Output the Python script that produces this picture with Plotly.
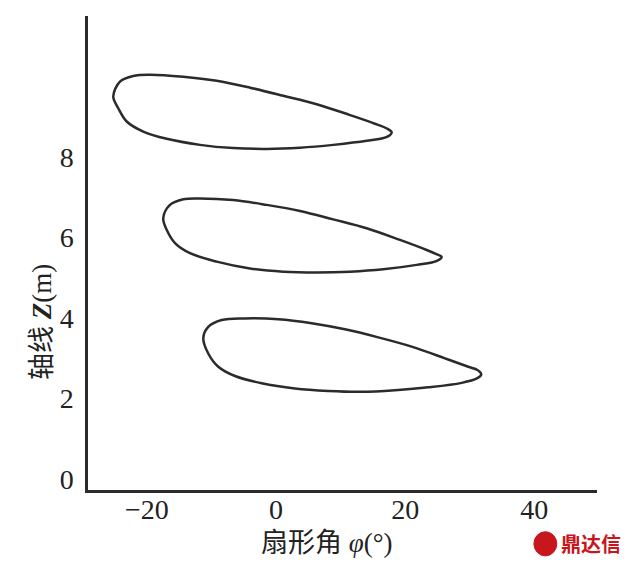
import plotly.graph_objects as go

# Loop contours (fan angle phi in degrees, axial position Z in m), traced starting at the lower middle
loop1_phi = [-1.44, -6.61, -11.76, -16.92, -20.54, -23.11, -24.41, -25.19, -24.15, -22.09, -19.50,
             -14.35, -9.18, -4.02, 1.13, 6.30, 11.46, 15.06, 17.26, 17.91, 17.18, 14.04, 8.87, 3.72, -1.44]
loop1_z = [8.20, 8.22, 8.30, 8.45, 8.63, 8.88, 9.21, 9.50, 9.87, 10.01, 10.04,
           9.99, 9.89, 9.72, 9.52, 9.31, 9.04, 8.84, 8.70, 8.61, 8.50, 8.40, 8.30, 8.23, 8.20]

loop2_phi = [6.30, 1.13, -4.02, -9.18, -13.31, -15.63, -16.92, -17.45, -16.41, -14.35, -11.76,
             -6.61, -1.44, 3.72, 8.87, 14.04, 19.20, 23.33, 24.92, 25.65, 24.92, 21.78, 16.61, 11.46, 6.30]
loop2_z = [5.13, 5.15, 5.23, 5.40, 5.61, 5.86, 6.19, 6.48, 6.81, 6.95, 6.97,
           6.93, 6.81, 6.66, 6.45, 6.23, 5.94, 5.69, 5.58, 5.52, 5.42, 5.32, 5.21, 5.15, 5.13]

loop3_phi = [13.27, 8.10, 2.94, -2.21, -6.35, -8.93, -10.48, -11.25, -10.48, -8.41, -4.80,
             0.36, 5.53, 10.68, 15.84, 21.01, 26.16, 29.77, 31.19, 31.78, 31.11, 28.75, 23.58, 18.42, 13.27]
loop3_z = [2.17, 2.19, 2.25, 2.38, 2.56, 2.79, 3.12, 3.50, 3.78, 3.95, 3.99,
           3.97, 3.87, 3.72, 3.52, 3.29, 3.00, 2.79, 2.71, 2.60, 2.50, 2.39, 2.28, 2.21, 2.17]

x_ticks = [-20, 0, 20, 40]
y_ticks = [0, 2, 4, 6, 8]
x_tick_text = ["\u221220", "0", "20", "40"]
y_tick_text = ["0", "2", "4", "6", "8"]

line_color = "#2b2b2b"

fig = go.Figure()
for xs, zs in [(loop1_phi, loop1_z), (loop2_phi, loop2_z), (loop3_phi, loop3_z)]:
    fig.add_trace(go.Scatter(
        x=xs, y=zs, mode="lines",
        line=dict(color=line_color, width=2.5, shape="spline", smoothing=1.0),
        showlegend=False, hoverinfo="skip"))

serif = "Liberation Serif, Times New Roman, serif"
mixed = "Liberation Serif, Noto Sans CJK SC, serif"

fig.update_layout(
    width=634, height=566,
    margin=dict(l=88, r=37, t=16, b=76),
    paper_bgcolor="white", plot_bgcolor="white",
    xaxis=dict(range=[-29.1, 49.7], tickvals=x_ticks, ticktext=x_tick_text,
               showgrid=False, zeroline=False, showline=True, linecolor=line_color,
               linewidth=2.5, ticks="", ticklabelstandoff=-7,
               tickfont=dict(family=serif, size=28, color="#222")),
    yaxis=dict(range=[-0.27, 11.5], tickvals=y_ticks, ticktext=y_tick_text,
               showgrid=False, zeroline=False, showline=True, linecolor=line_color,
               linewidth=2.5, ticks="", ticklabelstandoff=6,
               tickfont=dict(family=serif, size=28, color="#222")),
    annotations=[
        dict(text="扇形角 <i>\u03c6</i>(°)", xref="paper", yref="paper",
             x=0.4676, y=-0.1118, xanchor="center", yanchor="middle", showarrow=False,
             font=dict(family=mixed, size=27, color="#222")),
        dict(text="轴线 <b><i>Z</i></b>(m)", xref="paper", yref="paper",
             x=-0.0904, y=0.3544, xanchor="center", yanchor="middle", showarrow=False,
             textangle=-90,
             font=dict(family=mixed, size=27, color="#222")),
        dict(text="<b>鼎达信</b>", xref="paper", yref="paper",
             x=0.988, y=-0.112, xanchor="center", yanchor="middle", showarrow=False,
             font=dict(family="Noto Sans CJK SC", size=20, color="#c8161d")),
    ],
    shapes=[
        dict(type="circle", xref="paper", yref="paper",
             x0=0.876, x1=0.921, y0=-0.139, y1=-0.088,
             fillcolor="#c8161d", line=dict(color="#c8161d", width=1)),
    ],
)

fig.write_html("out.html", config={"displayModeBar": False},
               post_script="document.body.style.margin='0';document.body.style.padding='0';")
